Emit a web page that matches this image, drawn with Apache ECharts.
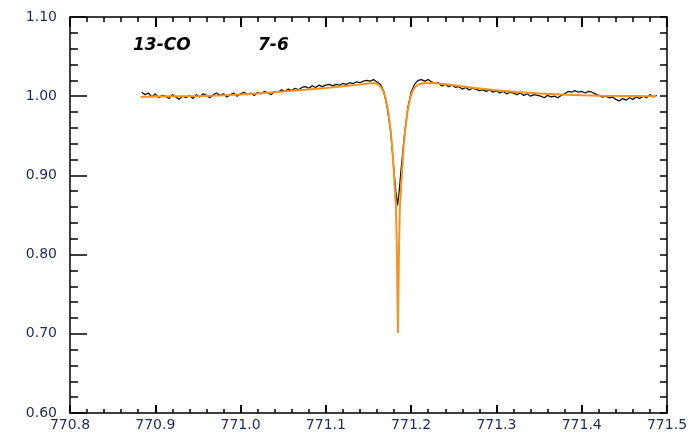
<!DOCTYPE html>
<html>
<head>
<meta charset="utf-8">
<script src="https://cdn.jsdelivr.net/npm/echarts@6/dist/echarts.min.js"></script>
<style>html,body{margin:0;padding:0;background:#fff}#c{width:700px;height:438px}</style>
</head>
<body>
<div id="c"></div>
<script>
// Observed spectrum [wavelength, normalized flux]
var observed = [
[770.884,1.005],[770.888,1.002],[770.892,1.004],[770.896,0.999],[770.900,1.003],[770.904,0.998],
[770.908,1.001],[770.912,1.000],[770.916,0.997],[770.920,1.002],[770.924,0.999],[770.928,0.996],
[770.932,1.000],[770.936,0.998],[770.940,1.001],[770.944,0.997],[770.948,1.002],[770.952,0.999],
[770.956,1.003],[770.960,1.001],[770.964,0.998],[770.968,1.002],[770.972,1.004],[770.976,1.001],
[770.980,1.003],[770.984,0.999],[770.988,1.002],[770.992,1.004],[770.996,1.000],[771.000,1.003],
[771.004,1.005],[771.008,1.002],[771.012,1.004],[771.016,1.001],[771.020,1.005],[771.024,1.003],
[771.028,1.006],[771.032,1.004],[771.036,1.002],[771.040,1.006],[771.044,1.005],[771.048,1.008],
[771.052,1.006],[771.056,1.009],[771.060,1.007],[771.064,1.010],[771.068,1.008],[771.072,1.011],
[771.076,1.012],[771.080,1.010],[771.084,1.013],[771.088,1.011],[771.092,1.014],[771.096,1.012],
[771.100,1.014],[771.104,1.015],[771.108,1.013],[771.112,1.015],[771.116,1.014],[771.120,1.016],
[771.124,1.015],[771.128,1.017],[771.132,1.016],[771.136,1.018],[771.140,1.017],[771.144,1.019],
[771.148,1.020],[771.152,1.019],[771.156,1.021],[771.160,1.018],[771.164,1.015],[771.168,1.006],
[771.172,0.985],[771.176,0.955],[771.180,0.905],[771.182,0.880],[771.184,0.862],[771.186,0.880],
[771.188,0.905],[771.192,0.950],[771.196,0.985],[771.200,1.005],[771.204,1.015],[771.208,1.020],
[771.212,1.021],[771.216,1.019],[771.220,1.021],[771.224,1.018],[771.228,1.016],[771.232,1.017],
[771.236,1.013],[771.240,1.015],[771.244,1.012],[771.248,1.014],[771.252,1.011],[771.256,1.012],
[771.260,1.009],[771.264,1.011],[771.268,1.008],[771.272,1.010],[771.276,1.009],[771.280,1.007],
[771.284,1.008],[771.288,1.006],[771.292,1.008],[771.296,1.005],[771.300,1.007],[771.304,1.004],
[771.308,1.006],[771.312,1.003],[771.316,1.005],[771.320,1.004],[771.324,1.002],[771.328,1.004],
[771.332,1.001],[771.336,1.003],[771.340,1.000],[771.344,1.002],[771.348,1.001],[771.352,1.000],
[771.356,0.998],[771.360,1.001],[771.364,0.999],[771.368,1.000],[771.372,0.998],[771.376,1.001],
[771.380,1.003],[771.384,1.006],[771.388,1.005],[771.392,1.007],[771.396,1.005],[771.400,1.006],
[771.404,1.004],[771.408,1.006],[771.412,1.005],[771.416,1.003],[771.420,1.001],[771.424,0.999],
[771.428,1.000],[771.432,0.998],[771.436,0.999],[771.440,0.996],[771.444,0.994],[771.448,0.997],
[771.452,0.995],[771.456,0.998],[771.460,0.996],[771.464,0.999],[771.468,0.997],[771.472,1.000],
[771.476,0.998],[771.480,1.002],[771.484,0.999],[771.488,1.001]
];
// Model fit [wavelength, normalized flux]
var model = [
[770.883,0.9990],[770.900,0.9995],[770.925,1.0000],[770.950,1.0003],[770.975,1.0010],
[771.000,1.0022],[771.025,1.0038],[771.050,1.0058],[771.075,1.0080],[771.100,1.0104],
[771.120,1.0125],[771.135,1.0142],[771.145,1.0155],[771.152,1.0163],[771.157,1.0163],
[771.161,1.0150],[771.164,1.0120],[771.167,1.0070],[771.170,0.9980],[771.173,0.9820],
[771.176,0.9570],[771.178,0.9330],[771.180,0.8980],[771.1822,0.8600],[771.1832,0.8100],
[771.1839,0.7500],[771.1845,0.7010],[771.1851,0.7500],[771.1858,0.8100],[771.1868,0.8600],
[771.189,0.8980],[771.191,0.9330],[771.193,0.9570],[771.196,0.9820],[771.199,0.9980],
[771.202,1.0070],[771.205,1.0120],[771.209,1.0150],[771.214,1.0165],[771.222,1.0167],
[771.232,1.0160],[771.250,1.0138],[771.275,1.0105],[771.300,1.0075],[771.325,1.0052],
[771.350,1.0035],[771.375,1.0022],[771.400,1.0013],[771.425,1.0007],[771.450,1.0003],
[771.470,1.0001],[771.487,1.0000]
];
var xRange = [770.8, 771.5], xStep = 0.1;
var yRange = [0.60, 1.10], yStep = 0.1;
var labelMain = '13-CO', labelTrans = '7-6';

var labelColor = '#1a2a5a';
var labelFont = {fontFamily: 'DejaVu Sans', fontSize: 14, color: labelColor};
function tickAxis(pos, len, minorLen, w, mw, labels, fmt, margin) {
  return {
    type: 'value', position: pos,
    axisLine: {show: true, onZero: false, lineStyle: {color: '#000', width: 1.5}},
    axisTick: {show: true, inside: true, length: len, lineStyle: {color: '#000', width: w}},
    minorTick: {show: true, splitNumber: 5, length: minorLen, lineStyle: {color: '#000', width: mw}},
    splitLine: {show: false},
    axisLabel: labels ? Object.assign({show: true, margin: margin, formatter: fmt}, labelFont) : {show: false}
  };
}
var xb = tickAxis('bottom', 8, 4, 2, 1.5, true, function (v) { return v.toFixed(1); }, 5);
var xt = tickAxis('top', 10, 5, 2, 1.5, false);
var yl = tickAxis('left', 17, 8, 1.5, 1.5, true, function (v) { return v.toFixed(2); }, 13);
var yr = tickAxis('right', 7, 7, 1.5, 1.5, false);
[xb, xt].forEach(function (a) { a.min = xRange[0]; a.max = xRange[1]; a.interval = xStep; });
[yl, yr].forEach(function (a) { a.min = yRange[0]; a.max = yRange[1]; a.interval = yStep; });

var chart = echarts.init(document.getElementById('c'), null, {renderer: 'canvas'});
chart.setOption({
  animation: false,
  backgroundColor: '#fff',
  grid: {left: 70, right: 33, top: 17, bottom: 25, containLabel: false},
  xAxis: [xb, xt],
  yAxis: [yl, yr],
  graphic: [
    {type: 'text', left: 133, top: 37, style: {text: labelMain, font: 'italic bold 17px "DejaVu Sans"', fill: '#000'}},
    {type: 'text', left: 258, top: 37, style: {text: labelTrans, font: 'italic bold 17px "DejaVu Sans"', fill: '#000'}}
  ],
  series: [{
    type: 'line', data: observed, showSymbol: false, symbol: 'none', xAxisIndex: 0, yAxisIndex: 0,
    lineStyle: {color: '#111', width: 1.3}, z: 2
  }, {
    type: 'line', data: model, showSymbol: false, symbol: 'none', xAxisIndex: 0, yAxisIndex: 0,
    lineStyle: {color: '#f7931e', width: 2}, z: 3
  }]
});
</script>
</body>
</html>
